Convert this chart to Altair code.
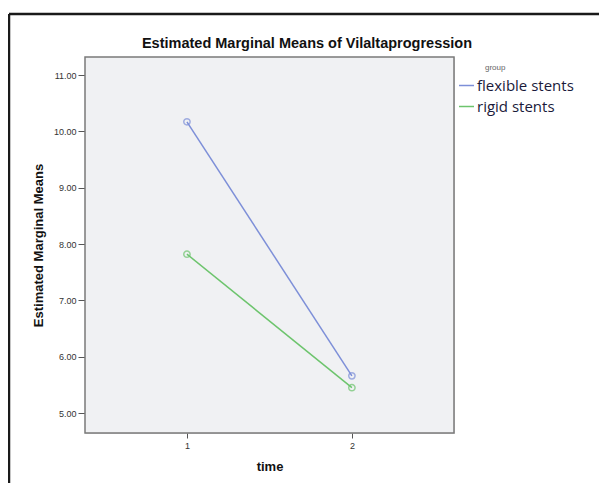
import altair as alt
import pandas as pd

time = [1, 2, 1, 2]
group = ["flexible stents", "flexible stents", "rigid stents", "rigid stents"]
means = [10.17, 5.66, 7.82, 5.45]
groups = ["flexible stents", "rigid stents"]
colors = ["#7d8fd8", "#6dc46d"]
y_ticks = [5, 6, 7, 8, 9, 10, 11]
x_ticks = [1, 2]
title_text = "Estimated Marginal Means of Vilaltaprogression"

df = pd.DataFrame({"time": time, "group": group, "mean": means})
one = pd.DataFrame({"a": [0]})

x = alt.X("time:Q", scale=alt.Scale(domain=[0.382, 2.619], nice=False, zero=False),
          axis=alt.Axis(values=x_ticks, format="d", title="time", grid=False, domain=False,
                        tickSize=5, tickColor="#555", labelFontSize=9, labelColor="#333",
                        labelPadding=3, titleFontSize=13, titleFontWeight="bold",
                        titlePadding=10, titleColor="#111", labelFont="Liberation Sans",
                        titleFont="Liberation Sans"))
y = alt.Y("mean:Q", scale=alt.Scale(domain=[4.646, 11.32], nice=False, zero=False),
          axis=alt.Axis(values=y_ticks, format=".2f", title="Estimated Marginal Means",
                        grid=False, domain=False, tickSize=7, tickColor="#555",
                        labelFontSize=9, labelColor="#333", labelPadding=2,
                        titleFontSize=13, titleFontWeight="bold", titlePadding=8,
                        titleColor="#111", labelFont="Liberation Sans",
                        titleFont="Liberation Sans"))
color = alt.Color("group:N", scale=alt.Scale(domain=groups, range=colors),
                  legend=alt.Legend(title=None, orient="none", legendX=373, legendY=20,
                                    symbolType="stroke", symbolSize=225,
                                    symbolStrokeWidth=1.5, labelFontSize=15,
                                    labelFont="Open Sans", labelColor="#1a1a3a",
                                    labelOffset=2, rowPadding=4))

bg = alt.Chart(one).mark_rect(fill="#f0f1f3", stroke="#7a7a7a", strokeWidth=1.5).encode(
    x=alt.value(0), x2=alt.value("width"), y=alt.value(0), y2=alt.value("height"))

base = alt.Chart(df)
lines = base.mark_line(strokeWidth=1.5).encode(x=x, y=y, color=color)
points = base.mark_point(filled=False, size=40, strokeWidth=1.5).encode(
    x=x, y=y, color=alt.Color("group:N", scale=alt.Scale(domain=groups, range=colors), legend=None))

ttl = alt.Chart(one).mark_text(align="center", baseline="middle", fontSize=14.5,
                               fontWeight="bold", color="#111",
                               font="Liberation Sans").encode(
    x=alt.value(222), y=alt.value(-13), text=alt.value(title_text))
grp = alt.Chart(one).mark_text(align="left", baseline="middle", fontSize=8,
                               color="#666", font="Liberation Sans").encode(
    x=alt.value(400), y=alt.value(11), text=alt.value("group"))
top_line = alt.Chart(one).mark_rule(color="#1a1a1a", strokeWidth=2.5).encode(
    x=alt.value(-76), x2=alt.value(514), y=alt.value(-43))
left_line = alt.Chart(one).mark_rule(color="#1a1a1a", strokeWidth=2.5).encode(
    x=alt.value(-76), y=alt.value(-43), y2=alt.value(426))

chart = alt.layer(bg, lines, points, ttl, grp, top_line, left_line).properties(
    width=369, height=376,
    autosize=alt.AutoSizeParams(type="none"),
    padding={"left": 77, "top": 49, "right": 145, "bottom": 50},
).configure_view(stroke=None).configure(background="white")

chart.save("out.html", embed_options={"renderer": "svg", "actions": False})
